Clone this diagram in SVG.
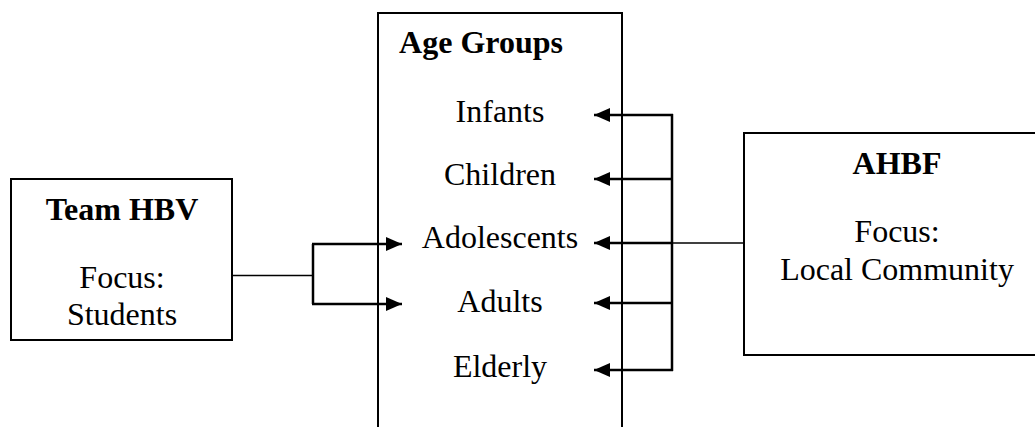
<svg xmlns="http://www.w3.org/2000/svg" width="1035" height="427" viewBox="0 0 1035 427">
<style>
.box{fill:#fff;stroke:#000;stroke-width:2}
.t{font-size:32px;fill:#000;text-anchor:middle}
.b{font-weight:bold}
.thin{fill:none;stroke:#000;stroke-width:1.5}
.thick{fill:none;stroke:#000;stroke-width:2.5}
</style>
<defs>
<marker id="ah" markerUnits="userSpaceOnUse" markerWidth="16" markerHeight="14" refX="16" refY="7" orient="auto">
<path d="M0,0 L16,7 L0,14 Z" fill="#000"/>
</marker>
</defs>
<g font-family="Liberation Serif, Times New Roman, serif">
<g id="age-groups">
<rect class="box" x="378" y="13" width="244" height="430"/>
<text class="t b" x="481" y="53">Age Groups</text>
<text class="t" x="500" y="122">Infants</text>
<text class="t" x="500" y="185">Children</text>
<text class="t" x="500" y="248">Adolescents</text>
<text class="t" x="500" y="312">Adults</text>
<text class="t" x="500" y="377">Elderly</text>
</g>
<g id="team-hbv">
<rect class="box" x="11" y="179" width="221" height="161"/>
<text class="t b" x="122" y="220">Team HBV</text>
<text class="t" x="122" y="288">Focus:</text>
<text class="t" x="122" y="325">Students</text>
</g>
<g id="ahbf">
<rect class="box" x="744" y="133" width="320" height="222"/>
<text class="t b" x="897" y="174">AHBF</text>
<text class="t" x="897" y="242">Focus:</text>
<text class="t" x="897" y="280">Local Community</text>
</g>
</g>
<g id="connectors">
<path class="thin" d="M232,275.5 H313"/>
<path class="thick" d="M313,244 V304"/>
<path class="thick" d="M312,244 H402" marker-end="url(#ah)"/>
<path class="thick" d="M312,304 H402" marker-end="url(#ah)"/>
<path class="thin" d="M672,243 H744"/>
<path class="thick" d="M672,114 V371"/>
<path class="thick" d="M673,115 H594" marker-end="url(#ah)"/>
<path class="thick" d="M673,179 H594" marker-end="url(#ah)"/>
<path class="thick" d="M673,243 H594" marker-end="url(#ah)"/>
<path class="thick" d="M673,303 H594" marker-end="url(#ah)"/>
<path class="thick" d="M673,370 H594" marker-end="url(#ah)"/>
</g>
</svg>
